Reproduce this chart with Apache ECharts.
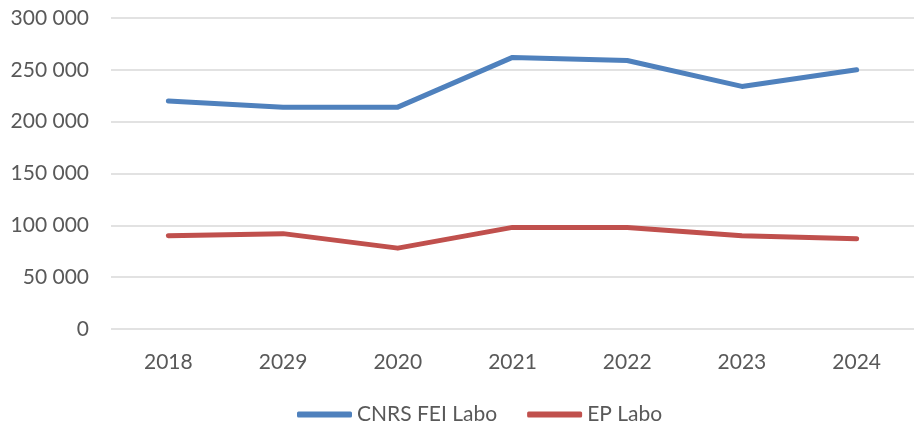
<!DOCTYPE html>
<html>
<head>
<meta charset="utf-8">
<script src="https://cdn.jsdelivr.net/npm/echarts@6/dist/echarts.min.js"></script>
<style>html,body{margin:0;padding:0;background:#fff;}#c{width:914px;height:424px;}</style>
</head>
<body>
<div id="c"></div>
<script>
const categories = ['2018', '2029', '2020', '2021', '2022', '2023', '2024'];
const cnrsValues = [220000, 214000, 214000, 262000, 259000, 234000, 250000];
const epValues = [90000, 92000, 78000, 98000, 98000, 90000, 87000];
const seriesNames = ['CNRS FEI Labo', 'EP Labo'];

const fmt = v => String(v).replace(/\B(?=(\d{3})+(?!\d))/g, ' ');
const font = 'Lato, "Open Sans", sans-serif';

const chart = echarts.init(document.getElementById('c'));
chart.setOption({
  animation: false,
  textStyle: { fontFamily: font },
  grid: { left: 111, top: 18, width: 813, height: 311, containLabel: false },
  legend: {
    top: 399, left: 292,
    itemWidth: 55, itemHeight: 6, itemGap: 30,
    icon: 'roundRect',
    textStyle: { color: '#595959', fontSize: 21, fontFamily: font },
    data: seriesNames
  },
  xAxis: {
    type: 'category',
    data: categories,
    boundaryGap: true,
    axisLine: { show: false },
    axisTick: { show: false },
    axisLabel: { color: '#595959', fontSize: 21, margin: 23, fontFamily: font }
  },
  yAxis: {
    type: 'value',
    min: 0, max: 300000, interval: 50000,
    axisLine: { show: false },
    axisTick: { show: false },
    splitLine: { lineStyle: { color: '#D9D9D9', width: 1.5 } },
    axisLabel: { color: '#595959', fontSize: 21, margin: 22, fontFamily: font, formatter: fmt }
  },
  series: [
    {
      name: seriesNames[0], type: 'line', data: cnrsValues,
      symbol: 'none', color: '#4F81BD',
      lineStyle: { width: 5, color: '#4F81BD', cap: 'round', join: 'round' }
    },
    {
      name: seriesNames[1], type: 'line', data: epValues,
      symbol: 'none', color: '#C0504D',
      lineStyle: { width: 5, color: '#C0504D', cap: 'round', join: 'round' }
    }
  ]
});
</script>
</body>
</html>
